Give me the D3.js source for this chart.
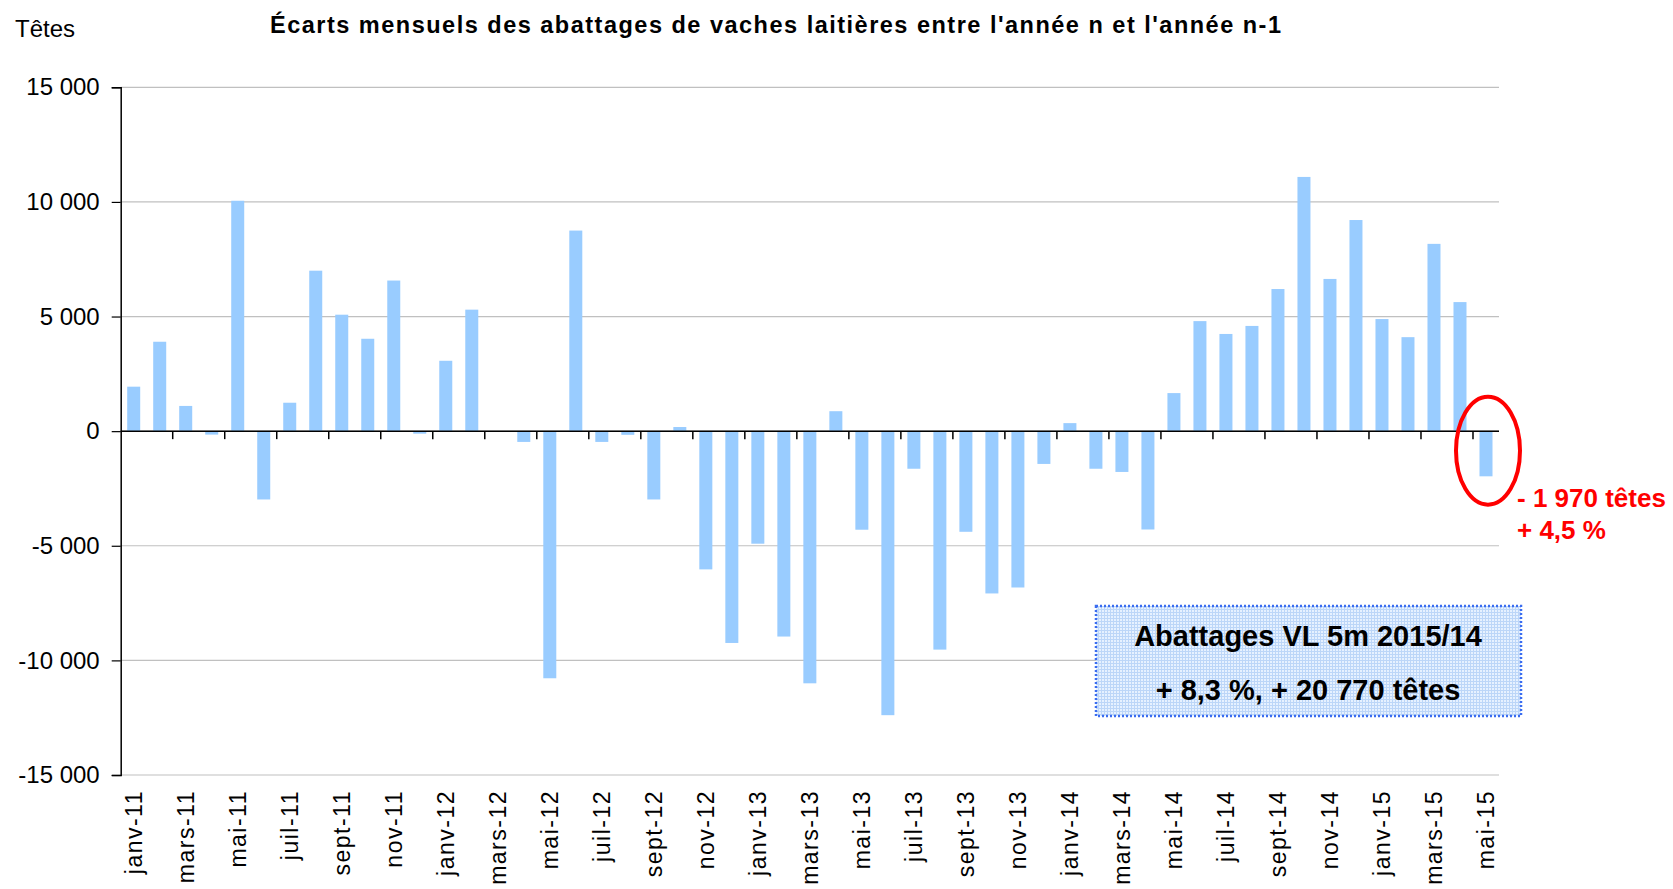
<!DOCTYPE html>
<html>
<head>
<meta charset="utf-8">
<script src="https://cdn.jsdelivr.net/npm/d3@7"></script>
<style>
  body { margin: 0; background: #fff; }
  text { font-family: "Liberation Sans", Arial, sans-serif; }
</style>
</head>
<body>
<div id="chart"></div>
<script>
"use strict";

// months janv-11 .. mai-15
const months = ["janv-11", "févr-11", "mars-11", "avr-11", "mai-11", "juin-11", "juil-11", "août-11", "sept-11", "oct-11", "nov-11", "déc-11",
    "janv-12", "févr-12", "mars-12", "avr-12", "mai-12", "juin-12", "juil-12", "août-12", "sept-12", "oct-12", "nov-12", "déc-12",
    "janv-13", "févr-13", "mars-13", "avr-13", "mai-13", "juin-13", "juil-13", "août-13", "sept-13", "oct-13", "nov-13", "déc-13",
    "janv-14", "févr-14", "mars-14", "avr-14", "mai-14", "juin-14", "juil-14", "août-14", "sept-14", "oct-14", "nov-14", "déc-14",
    "janv-15", "févr-15", "mars-15", "avr-15", "mai-15"];

// écart n / n-1 (têtes)
const ecarts = [1940, 3900, 1100, -150, 10050, -2980, 1240, 7000, 5080, 4030, 6570, -110,
    3070, 5300, 0, -470, -10780, 8750, -470, -160, -2980, 180, -6030, -9240,
    -4910, -8960, -11000, 870, -4300, -12390, -1640, -9530, -4390, -7080, -6820, -1430,
    350, -1640, -1780, -4290, 1660, 4800, 4240, 4590, 6200, 11090, 6640, 9210,
    4890, 4100, 8170, 5630, -1970];

const yTicks = [-15000, -10000, -5000, 0, 5000, 10000, 15000];

const title = "Écarts mensuels des abattages de vaches laitières entre l'année n et l'année n-1";
const yLabel = "Têtes";
const noteLines = ["- 1 970 têtes", "+ 4,5 %"];
const boxLines = ["Abattages VL 5m 2015/14", "+ 8,3 %, + 20 770 têtes"];

const msm = {
    width: 1673,
    height: 889,
    left: 120.7,
    right: 1499,
    top: 87.3,
    bottom: 775
};

const svg = d3.select("#chart")
    .append("svg")
    .attr("width", msm.width)
    .attr("height", msm.height);

const x = d3.scaleBand()
    .domain(months)
    .range([msm.left, msm.right])
    .paddingInner(0.5)
    .paddingOuter(0.25);

const y = d3.scaleLinear()
    .domain([-15000, 15000])
    .range([msm.bottom, msm.top]);

const fmt = d3.formatLocale({decimal: ",", thousands: " ", grouping: [3], currency: ["", " €"], minus: "-"}).format(",d");

// pattern for the summary box
const defs = svg.append("defs");
const pat = defs.append("pattern")
    .attr("id", "grille")
    .attr("width", 3)
    .attr("height", 3)
    .attr("patternUnits", "userSpaceOnUse");
pat.append("rect").attr("width", 3).attr("height", 3).attr("fill", "#e6f1ff");
pat.append("path").attr("d", "M0,0.5H3M0.5,0V3").attr("stroke", "#bcd6f8").attr("stroke-width", 1);

// gridlines
svg.append("g")
    .selectAll("line")
    .data(yTicks)
    .enter()
    .append("line")
    .attr("x1", msm.left)
    .attr("x2", msm.right)
    .attr("y1", d => y(d))
    .attr("y2", d => y(d))
    .attr("stroke", "#c0c0c0")
    .attr("stroke-width", 1.2);

// bars
svg.append("g")
    .selectAll("rect")
    .data(months)
    .enter()
    .append("rect")
    .attr("x", d => x(d))
    .attr("width", x.bandwidth())
    .attr("y", (d, i) => y(Math.max(0, ecarts[i])))
    .attr("height", (d, i) => Math.abs(y(ecarts[i]) - y(0)))
    .attr("fill", "#99ccff");

// y axis
const yAxis = svg.append("g")
    .attr("transform", "translate(" + msm.left + ",0)")
    .call(d3.axisLeft(y).tickValues(yTicks).tickFormat(fmt).tickSize(9).tickPadding(12));
yAxis.select(".domain").attr("stroke", "#000").attr("stroke-width", 1.5);
yAxis.selectAll(".tick line").attr("stroke", "#000").attr("stroke-width", 1.2);
yAxis.selectAll("text")
    .attr("font-size", "24px")
    .attr("font-family", "Liberation Sans, Arial, sans-serif")
    .attr("fill", "#000");

// zero line with tick marks between every two months
const step = x.step();
const boundaries = months.filter((d, i) => i > 0 && i % 2 === 0).map(d => x(d) - step * 0.25);
const zero = svg.append("g");
zero.append("line")
    .attr("x1", msm.left)
    .attr("x2", msm.right)
    .attr("y1", y(0))
    .attr("y2", y(0))
    .attr("stroke", "#000")
    .attr("stroke-width", 1.5);
zero.selectAll(".tk")
    .data(boundaries)
    .enter()
    .append("line")
    .attr("class", "tk")
    .attr("x1", d => d)
    .attr("x2", d => d)
    .attr("y1", y(0))
    .attr("y2", y(0) + 8)
    .attr("stroke", "#000")
    .attr("stroke-width", 1.5);

// month labels under the plot
const xAxis = svg.append("g")
    .attr("transform", "translate(0," + msm.bottom + ")")
    .call(d3.axisBottom(x).tickValues(months.filter((d, i) => i % 2 === 0)).tickSize(0));
xAxis.select(".domain").remove();
xAxis.selectAll("text")
    .attr("font-size", "23px")
    .attr("font-family", "Liberation Sans, Arial, sans-serif")
    .attr("letter-spacing", "1.5px")
    .attr("fill", "#000")
    .attr("text-anchor", "end")
    .attr("transform", "rotate(-90)")
    .attr("x", -15)
    .attr("y", 0)
    .attr("dy", "0.35em");

// title and unit
svg.append("text")
    .attr("x", 270)
    .attr("y", 33)
    .attr("font-size", "23.5px")
    .attr("font-weight", "bold")
    .attr("textLength", 1011)
    .attr("lengthAdjust", "spacing")
    .text(title);

svg.append("text")
    .attr("x", 15)
    .attr("y", 37)
    .attr("font-size", "24px")
    .text(yLabel);

// red ellipse around the last month
const last = months[months.length - 1];
svg.append("ellipse")
    .attr("cx", x(last) + x.bandwidth() / 2 + 2)
    .attr("cy", y(-850))
    .attr("rx", 32)
    .attr("ry", 54)
    .attr("fill", "none")
    .attr("stroke", "#ff0000")
    .attr("stroke-width", 4);

svg.append("g")
    .selectAll("text")
    .data(noteLines)
    .enter()
    .append("text")
    .attr("x", 1517)
    .attr("y", (d, i) => 507 + i * 32)
    .attr("font-size", "26px")
    .attr("font-weight", "bold")
    .attr("fill", "#ff0000")
    .text(d => d);

// summary box
svg.append("rect")
    .attr("x", 1096)
    .attr("y", 606)
    .attr("width", 425)
    .attr("height", 110)
    .attr("fill", "url(#grille)")
    .attr("stroke", "#3a6cf0")
    .attr("stroke-width", 2.5)
    .attr("stroke-dasharray", "2 2");

svg.append("g")
    .selectAll("text")
    .data(boxLines)
    .enter()
    .append("text")
    .attr("x", 1308)
    .attr("y", (d, i) => 646 + i * 54)
    .attr("text-anchor", "middle")
    .attr("font-size", "29px")
    .attr("font-weight", "bold")
    .attr("fill", "#000")
    .text(d => d);
</script>
</body>
</html>
